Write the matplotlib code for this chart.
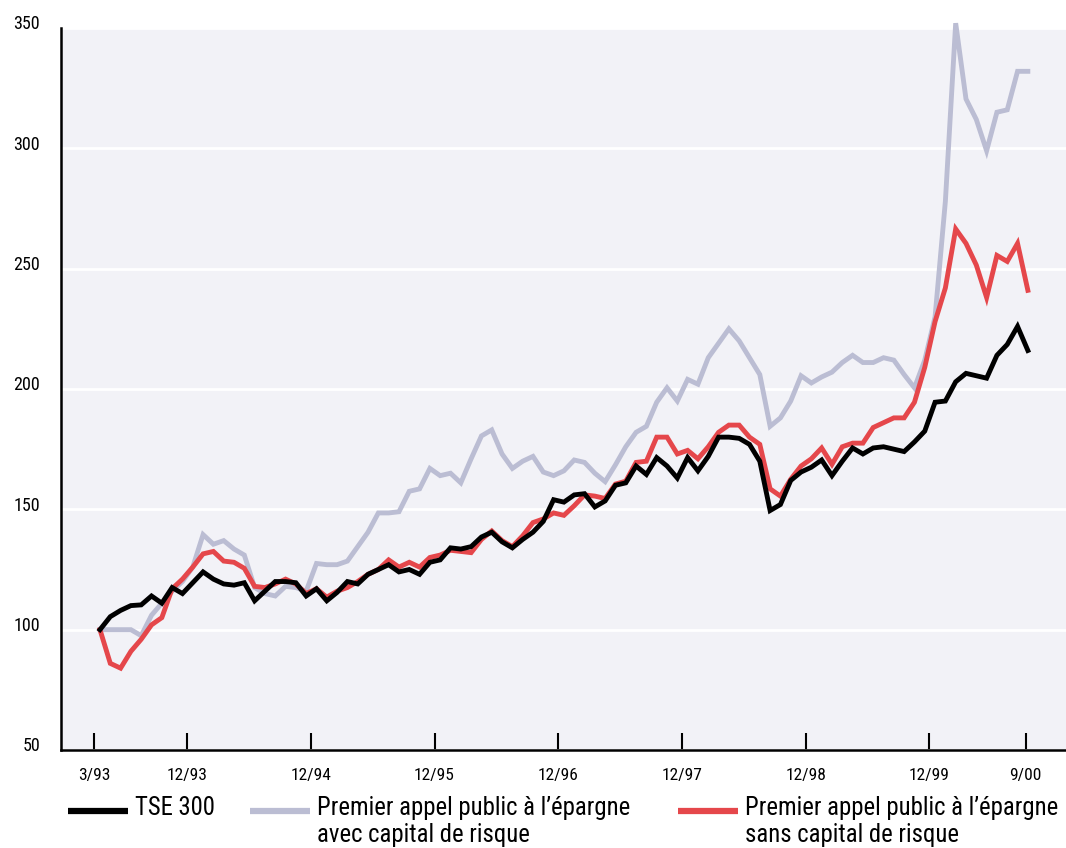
import numpy as np
import matplotlib
matplotlib.use('Agg')
import matplotlib.pyplot as plt
from matplotlib import font_manager
from matplotlib.lines import Line2D
from matplotlib.transforms import ScaledTranslation

# pick a narrow sans if there is one
names = set(f.name for f in font_manager.fontManager.ttflist)
fam = ['Liberation Sans Narrow', 'Roboto Condensed', 'Open Sans Condensed', 'Liberation Sans', 'DejaVu Sans']
fam = [f for f in fam if f in names] + ['DejaVu Sans']
plt.rcParams['font.family'] = fam

# monthly index, 3/93 .. 9/00
tse300 = [100, 105.4, 108, 110, 110.3, 114, 111, 117.5, 115, 119.5,
          124, 121, 119, 118.5, 119.5, 112, 116, 120, 120, 119.5,
          114, 117, 112, 115.5, 120, 119, 123, 125, 127, 124,
          125, 123, 128, 129, 134, 133.5, 134.5, 138.5, 140.5, 136.5,
          134, 137.5, 140.5, 145, 154, 153, 156, 156.5, 151, 153.5,
          160, 161, 168, 164.5, 171.5, 168, 163, 171.5, 166, 172,
          180, 180, 179.5, 177, 170, 149.5, 152, 162, 165.5, 167.5,
          170.5, 164, 170, 175.5, 173, 175.5, 176, 175, 174, 178,
          182.5, 194.5, 195, 203, 206.5, 205.5, 204.5, 214, 218.5, 226,
          216]
avec_cr = [100, 100, 100, 100, 97.5, 106, 111, 116, 120, 126,
           139.5, 135.5, 137, 133.5, 131, 117.5, 115, 114, 118, 117.5,
           116, 127.5, 127, 127, 128.5, 134.5, 140.5, 148.5, 148.5, 149,
           157.5, 158.5, 167, 164, 165, 161, 171, 180.5, 183, 173,
           167, 170, 172, 165.5, 164, 166, 170.5, 169.5, 165, 161.5,
           168.5, 176, 182, 184.5, 194.5, 200.5, 195, 204, 202, 213,
           219, 225, 220, 213, 206, 184.5, 188, 195, 205.5, 202.5,
           205, 207, 211, 214, 211, 211, 213, 212, 206, 200.5,
           212, 230, 278, 352, 320.5, 312, 299, 315, 316, 332,
           332]
sans_cr = [100, 86, 84, 91, 96, 102, 105, 117, 121, 126,
           131.5, 132.5, 128.5, 128, 125.5, 118, 117.5, 119, 121, 119,
           115, 117, 113.5, 116, 117.5, 120, 123, 125, 129, 126,
           128, 126, 130, 131, 133, 132.5, 132, 137.5, 141, 137,
           134.5, 139, 144.5, 146, 148.5, 147.5, 151.5, 156, 155.5, 154.5,
           160.5, 161.7, 169.5, 170, 180, 180, 173, 174.5, 171, 176,
           182, 185, 185, 180, 177, 158.5, 155.5, 162.5, 168, 171,
           175.5, 168.7, 176, 177.5, 177.5, 184, 186, 188, 188, 194.5,
           209, 228, 242, 266.5, 260.5, 251.5, 238, 255.5, 253, 260.5,
           241]
tick_labels = ['3/93', '12/93', '12/94', '12/95', '12/96', '12/97', '12/98', '12/99', '9/00']
tick_months = [0, 9, 21, 33, 45, 57, 69, 81, 90]
months = np.arange(len(tse300))

bg = '#f2f2f7'
c_black = '#000000'
c_gray = '#bbbdd3'
c_red = '#e5474b'

fig = plt.figure(figsize=(10.66, 8.48), dpi=100)
ax = fig.add_axes([61/1066, 98/848, 1005/1066, 722/848])
ax.set_facecolor(bg)

lw = 3.5
ax.plot(months, avec_cr, color=c_gray, lw=lw, solid_joinstyle='miter', clip_on=False, zorder=3)
ax.plot(months, sans_cr, color=c_red, lw=lw, solid_joinstyle='miter', zorder=4)
ax.plot(months, tse300, color=c_black, lw=lw, solid_joinstyle='miter', zorder=5)

ax.set_xlim(-3.78, 93.7)
ax.set_ylim(50, 350)
ax.set_yticks(np.arange(50, 351, 50))
ax.grid(axis='y', color='white', lw=2)
ax.set_axisbelow(True)

pos = [m - 0.55 for m in tick_months[:-1]] + [tick_months[-1] - 0.2]
ax.set_xticks(pos)
ax.set_xticklabels(tick_labels, fontsize=12.5)
ax.tick_params(axis='x', direction='in', length=12, width=1.5, pad=13, color='black')
ax.tick_params(axis='y', length=0, pad=15, labelsize=13)
off = ScaledTranslation(0, 4/72, fig.dpi_scale_trans)
for lab in ax.get_yticklabels():
    lab.set_transform(lab.get_transform() + off)

for s in ['top', 'right']:
    ax.spines[s].set_visible(False)
for s in ['left', 'bottom']:
    ax.spines[s].set_linewidth(1.8)
    ax.spines[s].set_color('black')

# legend, drawn by hand so the line sits on the first text line
W, H = 1066, 848
items = [(68, c_black, 'TSE 300'),
         (250, c_gray, 'Premier appel public à l’épargne\navec capital de risque'),
         (678, c_red, 'Premier appel public à l’épargne\nsans capital de risque')]
ly = 811
for x0, col, txt in items:
    fig.add_artist(Line2D([x0/W, (x0+60)/W], [1-ly/H, 1-ly/H], color=col, lw=4.5,
                          transform=fig.transFigure, solid_capstyle='butt'))
    fig.text((x0+67)/W, 1-(ly-15)/H, txt, fontsize=17.8, va='top', ha='left',
             linespacing=1.15)

fig.savefig('out.png', dpi=100)
